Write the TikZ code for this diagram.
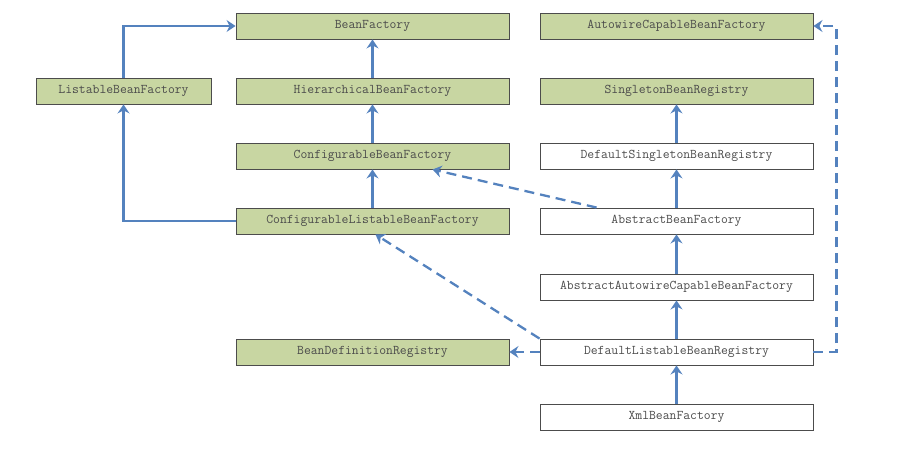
\documentclass[tikz,border=0pt]{standalone}
\usetikzlibrary{arrows.meta}
\definecolor{boxgreen}{RGB}{200,214,162}
\definecolor{arrowblue}{RGB}{84,130,190}
\definecolor{txtgray}{RGB}{75,75,75}
\begin{document}
\begin{tikzpicture}[x=1pt,y=-1pt,
  box/.style={draw=black!70, line width=0.9pt, minimum height=26pt, minimum width=273pt, inner sep=0pt,
    font=\ttfamily\fontsize{13.3}{14}\selectfont, text=txtgray},
  iface/.style={box, fill=boxgreen},
  impl/.style={box, fill=white},
  arr/.style={draw=arrowblue, line width=2.3pt, -{Stealth[length=9pt,width=12pt,inset=3pt]}},
  darr/.style={arr, dash pattern=on 10pt off 6pt}]
\useasboundingbox (0,0) rectangle (918,448);
% left / middle column
\node[iface, minimum width=175pt] (lbf) at (123.5,91) {ListableBeanFactory};
\node[iface] (bf)   at (372.5,26)  {BeanFactory};
\node[iface] (hbf)  at (372.5,91)  {HierarchicalBeanFactory};
\node[iface] (cbf)  at (372.5,156) {ConfigurableBeanFactory};
\node[iface] (clbf) at (372.5,221) {ConfigurableListableBeanFactory};
\node[iface] (bdr)  at (372.5,352) {BeanDefinitionRegistry};
% right column
\node[iface] (acbf) at (676.5,26)  {AutowireCapableBeanFactory};
\node[iface] (sbr)  at (676.5,91)  {SingletonBeanRegistry};
\node[impl]  (dsbr) at (676.5,156) {DefaultSingletonBeanRegistry};
\node[impl]  (abf)  at (676.5,221) {AbstractBeanFactory};
\node[impl]  (aacbf) at (676.5,287) {AbstractAutowireCapableBeanFactory};
\node[impl]  (dlbr) at (676.5,352) {DefaultListableBeanRegistry};
\node[impl]  (xbf)  at (676.5,417) {XmlBeanFactory};
% solid arrows
\draw[arr] (lbf.north) |- (bf.west);
\draw[arr] (hbf.north) -- (bf.south);
\draw[arr] (cbf.north) -- (hbf.south);
\draw[arr] (clbf.north) -- (cbf.south);
\draw[arr] (clbf.west) -| (lbf.south);
\draw[arr] (dsbr.north) -- (sbr.south);
\draw[arr] (abf.north) -- (dsbr.south);
\draw[arr] (aacbf.north) -- (abf.south);
\draw[arr] (dlbr.north) -- (aacbf.south);
\draw[arr] (xbf.north) -- (dlbr.south);
% dashed arrows
\draw[darr] ([xshift=57pt]abf.north west) -- ([xshift=60pt]cbf.south);
\draw[darr] (dlbr.north west) -- ([xshift=3pt]clbf.south);
\draw[darr] (dlbr.west) -- (bdr.east);
\draw[darr] (dlbr.east) -- ++(23,0) |- (acbf.east);
\end{tikzpicture}
\end{document}
